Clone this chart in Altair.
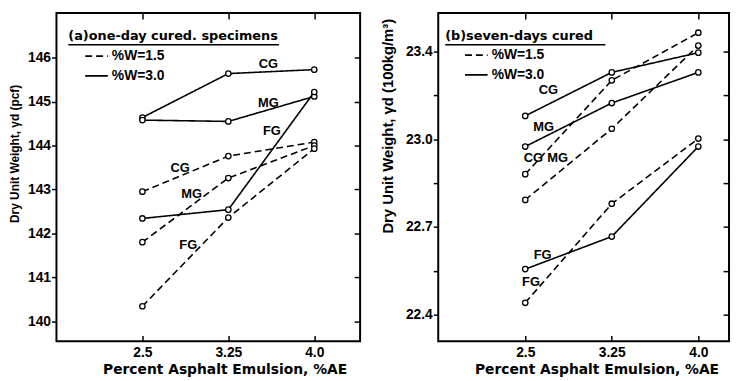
import altair as alt
import pandas as pd

# ---------------- data ----------------
ae = [2.5, 3.25, 4.0]
ae_labels = ["2.5", "3.25", "4.0"]
water_levels = ["1.5", "3.0"]

# panel (a) one-day cured, dry unit weight (pcf)
a_cg_15 = [142.95, 143.76, 144.08]
a_mg_15 = [141.80, 143.26, 144.00]
a_fg_15 = [140.34, 142.36, 143.93]
a_cg_30 = [144.64, 145.64, 145.73]
a_mg_30 = [144.58, 144.55, 145.12]
a_fg_30 = [142.34, 142.54, 145.22]

# panel (b) seven-days cured, dry unit weight (100 kg/m3)
b_cg_15 = [22.938, 23.281, 23.455]
b_mg_15 = [22.844, 23.104, 23.408]
b_fg_15 = [22.468, 22.830, 23.068]
b_cg_30 = [23.151, 23.310, 23.382]
b_mg_30 = [23.039, 23.198, 23.310]
b_fg_30 = [22.591, 22.710, 23.039]

# curve labels
a_lbl_text = ["CG", "MG", "FG", "CG", "MG", "FG"]
a_lbl_x = [3.60, 3.60, 3.63, 2.83, 2.93, 2.90]
a_lbl_y = [145.85, 144.98, 144.32, 143.49, 142.90, 141.73]

b_lbl_text = ["CG", "MG", "FG", "CG", "MG", "FG"]
b_lbl_x = [2.70, 2.66, 2.65, 2.57, 2.78, 2.55]
b_lbl_y = [23.245, 23.111, 22.642, 22.996, 22.996, 22.544]

# y ticks
a_yticks = [140, 141, 142, 143, 144, 145, 146]
b_yticks_pcf = [140, 141, 142, 143, 144, 145, 146]
pcf_to_100kgm3 = 0.16018
b_yticks = [round(p * pcf_to_100kgm3, 4) for p in b_yticks_pcf]
b_ytick_labels = ["22.4", "", "22.7", "", "23.0", "", "23.4"]

FONT = "Liberation Sans"
WIDE = "DejaVu Sans"


def make_df(series):
    rows = []
    for (grade, w), vals in series.items():
        for x, v in zip(ae, vals):
            rows.append({"AE": x, "gamma": v, "grade": grade, "W": w, "series": grade + w})
    return pd.DataFrame(rows)


df_a = make_df({("CG", "1.5"): a_cg_15, ("MG", "1.5"): a_mg_15, ("FG", "1.5"): a_fg_15,
                ("CG", "3.0"): a_cg_30, ("MG", "3.0"): a_mg_30, ("FG", "3.0"): a_fg_30})
df_b = make_df({("CG", "1.5"): b_cg_15, ("MG", "1.5"): b_mg_15, ("FG", "1.5"): b_fg_15,
                ("CG", "3.0"): b_cg_30, ("MG", "3.0"): b_mg_30, ("FG", "3.0"): b_fg_30})
lbl_a = pd.DataFrame({"t": a_lbl_text, "x": a_lbl_x, "y": a_lbl_y})
lbl_b = pd.DataFrame({"t": b_lbl_text, "x": b_lbl_x, "y": b_lbl_y})


def label_expr(values, labels):
    expr = "''"
    for v, l in zip(reversed(values), reversed(labels)):
        expr = f"abs(datum.value - {v}) < 0.001 ? '{l}' : ({expr})"
    return expr


x_expr = label_expr(ae, ae_labels)


def panel(df, lbl, xdomain, ydomain, yticks, y_expr, ytitle, ytitle_size, title_x, title_y,
          xtitle_x, ptitle, ptitle_x, underline_x2, legend_x, legend_y, width):
    xs = alt.Scale(domain=xdomain, nice=False, zero=False)
    ys = alt.Scale(domain=ydomain, nice=False, zero=False)

    x_main = alt.X("AE:Q", scale=xs, axis=alt.Axis(
        values=ae, labelExpr=x_expr, orient="bottom", offset=-6, tickSize=6,
        domain=False, grid=False, labelPadding=4, labelFontSize=14,
        title="Percent Asphalt Emulsion, %AE", titlePadding=3, titleFontSize=14,
        titleFont=WIDE, titleX=xtitle_x, titleAlign="center"))
    y_main = alt.Y("gamma:Q", scale=ys, axis=alt.Axis(
        values=yticks, labelExpr=y_expr, orient="left", tickSize=5, domain=False,
        grid=False, labelPadding=1, labelFontSize=14,
        title=ytitle, titleFontSize=ytitle_size, titleX=title_x, titleY=title_y,
        titleBaseline="middle", titleAlign="center"))

    lines = alt.Chart(df).mark_line(color="black", strokeWidth=1.6).encode(
        x=x_main, y=y_main, detail="series:N",
        strokeDash=alt.StrokeDash("W:N", scale=alt.Scale(domain=water_levels, range=[[7, 4], [1, 0]]),
                                  legend=alt.Legend(orient="none", legendX=legend_x, legendY=legend_y,
                                                    title=None, symbolType="stroke", symbolSize=520,
                                                    symbolStrokeWidth=1.8, symbolStrokeColor="black",
                                                    labelExpr="'%W=' + datum.label", labelFontSize=14,
                                                    labelFont=FONT, labelFontWeight="bold",
                                                    labelOffset=3, rowPadding=-3, padding=0)))

    x_top = alt.X("AE:Q", scale=xs, axis=alt.Axis(values=ae, orient="top", offset=-6, tickSize=6,
                                                  labels=False, domain=False, grid=False, title=None))
    y_right = alt.Y("gamma:Q", scale=ys, axis=alt.Axis(values=yticks, orient="right", offset=-6,
                                                       tickSize=6, labels=False, domain=False,
                                                       grid=False, title=None))
    points = alt.Chart(df).mark_point(shape="circle", size=30, fill="white", fillOpacity=1,
                                      stroke="black", strokeWidth=1.3, opacity=1).encode(
        x=x_top, y=y_right)

    texts = alt.Chart(lbl).mark_text(font=FONT, fontWeight="bold", fontSize=13, color="black").encode(
        x=alt.X("x:Q", scale=xs, axis=None), y=alt.Y("y:Q", scale=ys, axis=None), text="t:N")

    ptitle_layer = alt.Chart(pd.DataFrame({"t": [ptitle]})).mark_text(
        font=WIDE, fontWeight="bold", fontSize=13, align="left", baseline="middle", color="black").encode(
        text="t:N", x=alt.value(ptitle_x), y=alt.value(23))
    underline = alt.Chart(pd.DataFrame({"t": [ptitle]})).mark_rule(color="black", strokeWidth=1.5).encode(
        x=alt.value(ptitle_x), x2=alt.value(underline_x2), y=alt.value(32))

    return alt.layer(lines, points, texts, ptitle_layer, underline).resolve_axis(
        x="independent", y="independent").properties(width=width, height=332)


left = panel(df_a, lbl_a, [1.75, 4.4], [139.54, 147.02], a_yticks,
             label_expr(a_yticks, [str(v) for v in a_yticks]),
             "Dry Unit Weight, γd (pcf)", 12, -42, 142, 170,
             "(a)one-day cured. specimens", 12, 225, 28, 31, 307)
right = panel(df_b, lbl_b, [1.746, 4.266], [22.327, 23.527], b_yticks,
              label_expr(b_yticks, b_ytick_labels),
              "Dry Unit Weight, γd (100kg/m³)", 15, -51, 114, 160,
              "(b)seven-days cured", 7, 169, 26, 30, 294)

chart = alt.hconcat(left, right, spacing=79, bounds="flush").resolve_scale(
    strokeDash="independent").properties(
    padding={"left": 0, "top": 1, "right": 0, "bottom": 0}).configure_view(
    stroke="black", strokeWidth=2).configure_axis(
    labelFont=FONT, labelFontWeight="bold", labelColor="black", titleFont=FONT,
    titleFontWeight="bold", titleColor="black", tickColor="black", tickWidth=1.5)

chart.save("out.html", embed_options={"renderer": "svg", "actions": False})
